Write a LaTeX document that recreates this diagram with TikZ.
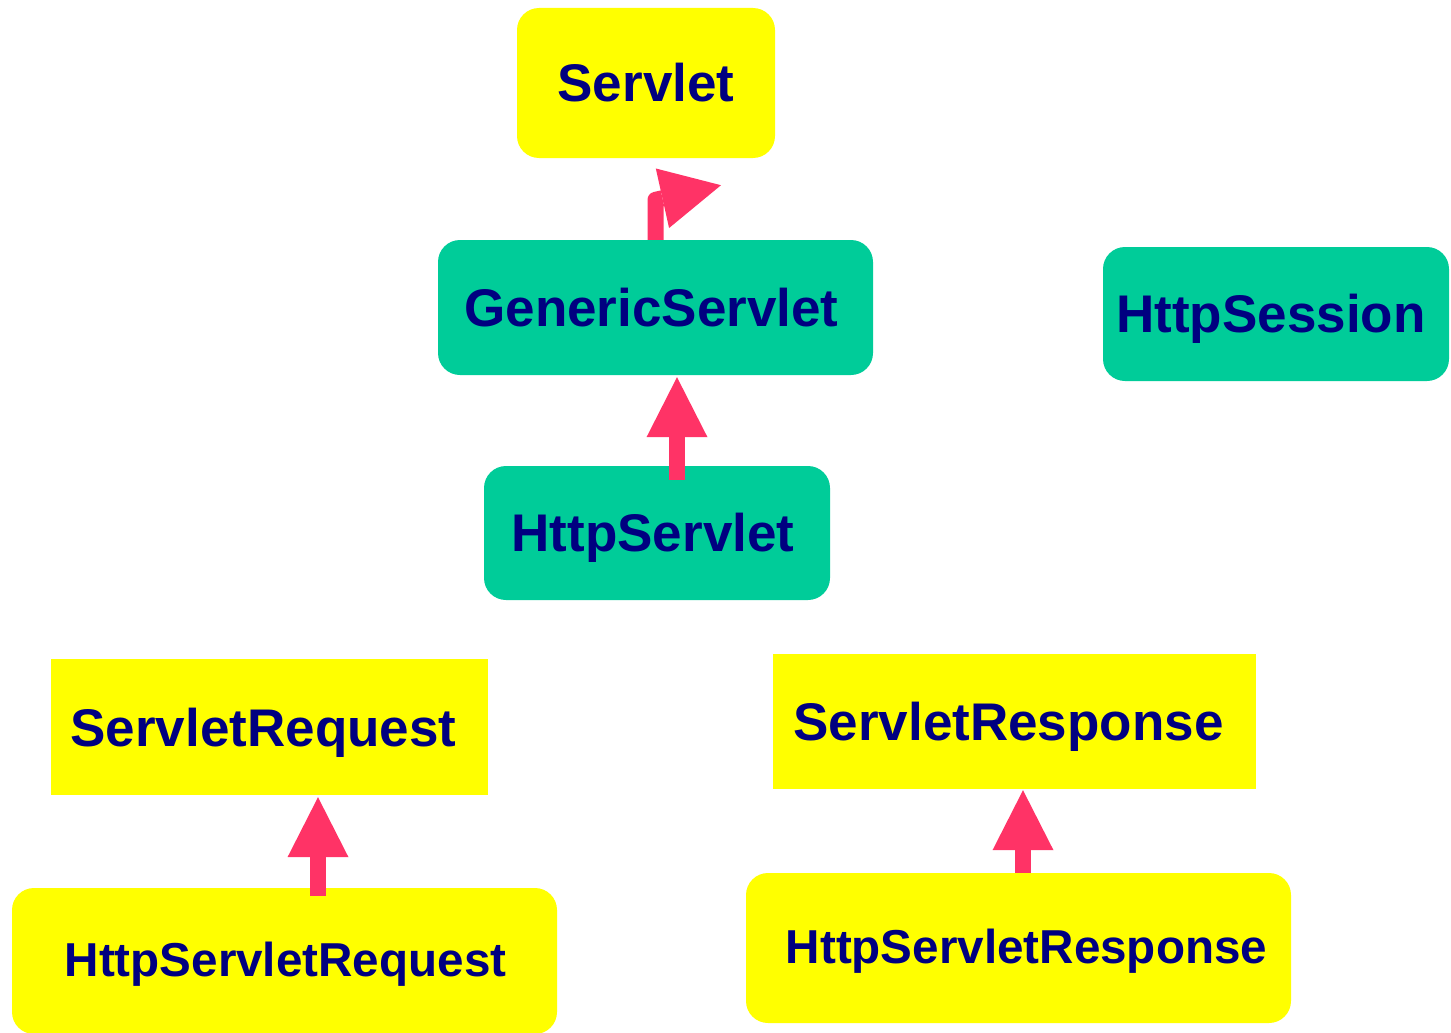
\documentclass[tikz,border=0pt]{standalone}
\usepackage{fontspec}
\setmainfont{Liberation Sans}
\usetikzlibrary{arrows.meta,calc}

\definecolor{boxyellow}{HTML}{FFFF00}
\definecolor{boxgreen}{HTML}{00CC99}
\definecolor{labelnavy}{HTML}{000080}
\definecolor{linkred}{HTML}{FF3366}

% move a label inside its box without changing the box size
\newcommand\nudge[3]{\hspace*{#1}\raisebox{#2}[\height][\depth]{#3}\hspace*{-#1}}

\tikzset{
  box/.style={inner sep=0pt, text=labelnavy,
    font=\fontsize{53}{60}\selectfont\bfseries},
  smallfont/.style={font=\fontsize{47.6}{56}\selectfont\bfseries},
  roundbox/.style={box, rounded corners=22pt},
  yellowbox/.style={fill=boxyellow},
  greenbox/.style={fill=boxgreen},
  conn/.style={draw=linkred, line width=16pt, line cap=butt, line join=round,
    -{Triangle[width=61pt,length=60pt,line width=0pt,fill=linkred]}}
}

\begin{document}
\begin{tikzpicture}[x=1pt,y=-1pt]
  \useasboundingbox (0,0) rectangle (1451,1033);

  % class boxes
  \node[roundbox,yellowbox,minimum width=258pt,minimum height=150pt] (servlet) at (646,83) {Servlet};
  \node[roundbox,greenbox,minimum width=435pt,minimum height=135pt] (generic) at (655.5,307.5) {\nudge{-4pt}{0pt}{GenericServlet}};
  \node[roundbox,greenbox,minimum width=346pt,minimum height=134pt] (session) at (1276,314) {\nudge{-5pt}{-5pt}{HttpSession}};
  \node[roundbox,greenbox,minimum width=346pt,minimum height=134pt] (httpservlet) at (657,533) {\nudge{-4pt}{-5pt}{HttpServlet}};
  \node[box,yellowbox,minimum width=437pt,minimum height=136pt] (request) at (269.5,727) {\nudge{-6pt}{-6pt}{ServletRequest}};
  \node[box,yellowbox,minimum width=483pt,minimum height=135pt] (response) at (1014.5,721.5) {\nudge{-6pt}{-5pt}{ServletResponse}};
  \node[roundbox,yellowbox,smallfont,minimum width=545pt,minimum height=146pt] (httprequest) at (284.5,961) {\nudge{1pt}{-3pt}{HttpServletRequest}};
  \node[roundbox,yellowbox,smallfont,minimum width=545pt,minimum height=150pt] (httpresponse) at (1018.5,948) {\nudge{8pt}{-3pt}{HttpServletResponse}};

  % inheritance links
  \coordinate (bend) at ($(generic.north)+(0,-40)$);
  \coordinate (servlettip) at ($(servlet.south)+(75,27)$);
  \draw[conn] (generic.north) -- (bend) -- (servlettip);

  \draw[conn] ($(httpservlet.north)+(20,14)$) -- ($(generic.south)+(21.5,2)$);
  \draw[conn] ($(httprequest.north)+(33.5,8)$) -- ($(request.south)+(48.5,2)$);
  \draw[conn] ($(httpresponse.north)+(4.5,0)$) -- ($(response.south)+(8.5,1)$);
\end{tikzpicture}
\end{document}
